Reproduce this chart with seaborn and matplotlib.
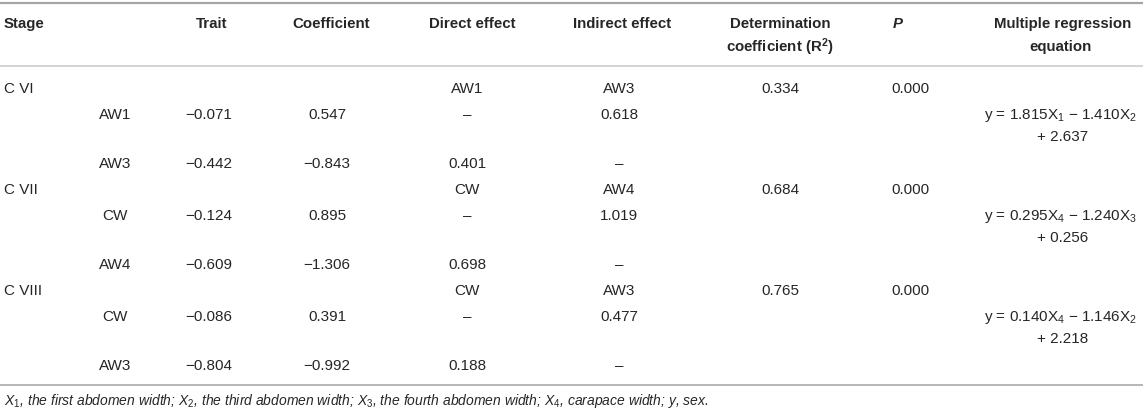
import matplotlib
matplotlib.use('Agg')
import matplotlib.pyplot as plt
import seaborn as sns

# ── Table data ─────────────────────────────────────────────
stages = ['C VI', 'C VII', 'C VIII']
stage_direct_label = ['AW1', 'CW', 'CW']
stage_indirect_label = ['AW3', 'AW4', 'AW3']
traits = [['AW1', 'AW3'], ['CW', 'AW4'], ['CW', 'AW3']]
trait_corr = [[-0.071, -0.442], [-0.124, -0.609], [-0.086, -0.804]]
path_coef = [[0.547, -0.843], [0.895, -1.306], [0.391, -0.992]]
direct_effect = [[None, 0.401], [None, 0.698], [None, 0.188]]
indirect_effect = [[0.618, None], [1.019, None], [0.477, None]]
r_squared = [0.334, 0.684, 0.765]
p_values = [0.000, 0.000, 0.000]
eq_coefs = [[1.815, -1.410], [0.295, -1.240], [0.140, -1.146]]
eq_vars = [[1, 2], [4, 3], [4, 2]]
eq_intercepts = [2.637, 0.256, 2.218]

headers = ['Stage', 'Trait', 'Coefficient', 'Direct effect', 'Indirect effect']
footnote = ('X$_1$, the first abdomen width; X$_2$, the third abdomen width; '
            'X$_3$, the fourth abdomen width; X$_4$, carapace width; y, sex.')

# ── Style ──────────────────────────────────────────────────
sns.set_theme(style='white')
plt.rcParams['font.family'] = ['Liberation Sans', 'DejaVu Sans']
plt.rcParams['mathtext.fontset'] = 'custom'
plt.rcParams['mathtext.rm'] = 'Liberation Sans'
plt.rcParams['mathtext.it'] = 'Liberation Sans:italic'
plt.rcParams['mathtext.bf'] = 'Liberation Sans:bold'

TXT = '#262626'
FS_BODY = 11
FS_HEAD = 10.8
FS_NOTE = 10


def fmt(v):
    if v is None:
        return '\u2013'
    return f'{v:.3f}'.replace('-', '\u2212')


fig = plt.figure(figsize=(11.46, 4.14), dpi=100)
ax = fig.add_axes([0, 0, 1, 1])
ax.set_xlim(0, 1146)
ax.set_ylim(414, 0)
ax.axis('off')

# column positions (pixels)
x_stage, x_trait, x_corr, x_coef = 4, 115, 209, 327
x_direct, x_indirect, x_r2, x_p, x_eq = 467, 619, 780, 891, 1061
head_x = [x_stage, 212, 331, 472, 622]

# ── Rules ──────────────────────────────────────────────────
ax.hlines(4, 0, 1143, color='#a6a6a6', lw=1.6)
ax.hlines(66.5, 0, 1143, color='#cccccc', lw=1.2)
ax.hlines(386, 0, 1143, color='#aaaaaa', lw=1.2)

# ── Header ────────────────────────────────────────────────
hy1, hy2 = 24, 47
hkw = dict(va='center', fontsize=FS_HEAD, fontweight='bold', color=TXT)
for i, (h, hx) in enumerate(zip(headers, head_x)):
    ax.text(hx, hy1, h, ha='left' if i == 0 else 'center', **hkw)
ax.text(x_r2, hy1, 'Determination', ha='center', **hkw)
ax.text(x_r2, hy2, 'coefficient (R$^{\\mathbf{2}}$)', ha='center', **hkw)
ax.text(893, hy1, 'P', ha='left', fontstyle='italic', **hkw)
ax.text(1063, hy1, 'Multiple regression', ha='center', **hkw)
ax.text(1061, hy2, 'equation', ha='center', **hkw)

# ── Body ──────────────────────────────────────────────────
stage_y = [89, 190, 291]
kw = dict(va='center', fontsize=FS_BODY, color=TXT)
for s, sy in enumerate(stage_y):
    ax.text(x_stage, sy, stages[s], ha='left', **kw)
    ax.text(x_direct, sy, stage_direct_label[s], ha='center', **kw)
    ax.text(x_indirect, sy, stage_indirect_label[s], ha='center', **kw)
    ax.text(x_r2, sy, f'{r_squared[s]:.3f}', ha='center', **kw)
    ax.text(x_p, sy, f'{p_values[s]:.3f}', ha='left', **kw)

    for t, dy in enumerate([26, 75]):
        ry = sy + dy
        ax.text(x_trait, ry, traits[s][t], ha='center', **kw)
        ax.text(x_corr, ry, fmt(trait_corr[s][t]), ha='center', **kw)
        ax.text(x_coef, ry, fmt(path_coef[s][t]), ha='center', **kw)
        ax.text(x_direct, ry, fmt(direct_effect[s][t]), ha='center', **kw)
        ax.text(x_indirect, ry, fmt(indirect_effect[s][t]), ha='center', **kw)

    c1, c2 = eq_coefs[s]
    v1, v2 = eq_vars[s]
    sign = '\u2212' if c2 < 0 else '+'
    line1 = f'y = {c1:.3f}X$_{v1}$ {sign} {abs(c2):.3f}X$_{v2}$'
    ax.text(x_eq, sy + 27, line1, ha='center', **kw)
    ax.text(x_eq + 2, sy + 48, f'+ {eq_intercepts[s]:.3f}', ha='center', **kw)

# ── Footnote ──────────────────────────────────────────────
ax.text(4, 401, footnote, ha='left', va='center', fontsize=FS_NOTE,
        fontstyle='italic', color=TXT)

fig.savefig('out.png', dpi=100)
plt.close(fig)
